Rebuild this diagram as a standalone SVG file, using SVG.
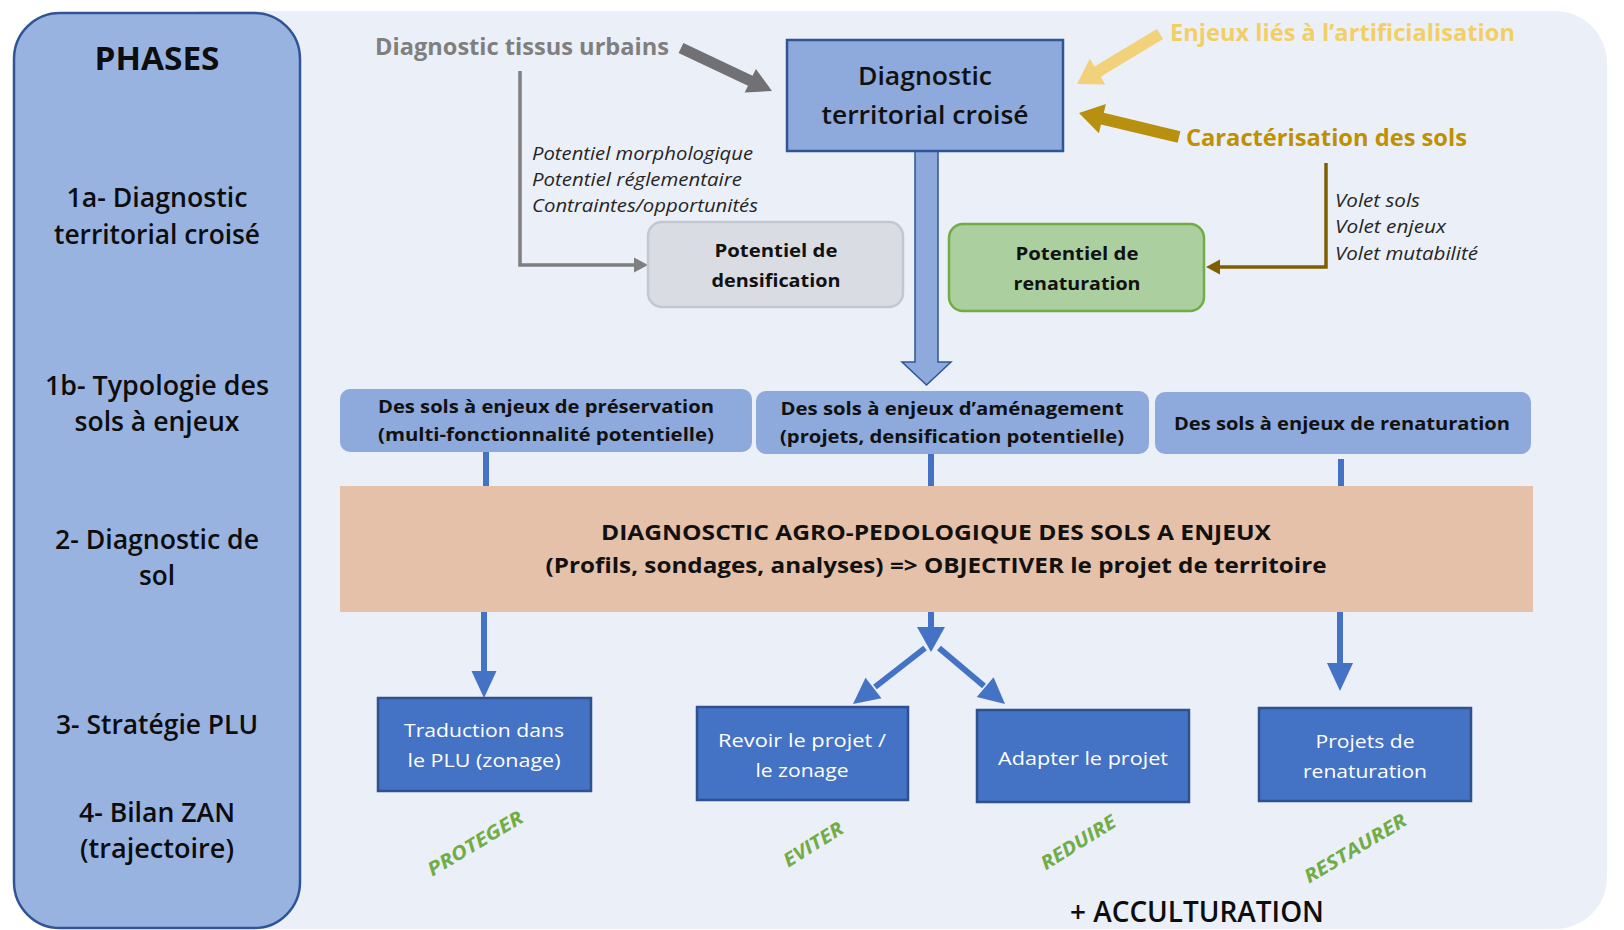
<svg xmlns="http://www.w3.org/2000/svg" width="1624" height="930" viewBox="0 0 1624 930">
<style>
text{font-family:"Open Sans","Liberation Sans",sans-serif;}
.ph{font-size:27px;font-weight:600;fill:#0d0d0d;text-anchor:middle}
.hd{font-size:23px;font-weight:700}
.it{font-size:17.5px;font-style:italic;fill:#262626}
.bx{font-weight:700;fill:#111;text-anchor:middle}
.wt{font-size:18.5px;fill:#fff;text-anchor:middle}
.gr{font-size:19px;font-weight:700;font-style:italic;fill:#70AD47;text-anchor:middle}
.blue{fill:#4472C4;stroke:#2F528F;stroke-width:2.5}
.cat{fill:#8EA9DB}
.conn{stroke:#4472C4;stroke-width:6;fill:none}
.hb{fill:#4472C4}
</style>
<rect width="1624" height="930" fill="#fff"/>
<rect id="background" x="150" y="11" width="1457" height="918" rx="52" fill="#EBEFF8"/>

<g id="phases">
<rect x="14" y="13" width="286" height="915" rx="46" fill="#99B3E0" stroke="#2F5597" stroke-width="2.5"/>
<text class="ph" x="157" y="70" style="font-size:32px;font-weight:700" textLength="125" lengthAdjust="spacingAndGlyphs">PHASES</text>
<text class="ph" x="157" y="207" textLength="181" lengthAdjust="spacingAndGlyphs">1a- Diagnostic</text>
<text class="ph" x="157" y="244" textLength="206" lengthAdjust="spacingAndGlyphs">territorial croisé</text>
<text class="ph" x="157" y="395" textLength="224" lengthAdjust="spacingAndGlyphs">1b- Typologie des</text>
<text class="ph" x="157" y="431" textLength="165" lengthAdjust="spacingAndGlyphs">sols à enjeux</text>
<text class="ph" x="157" y="549" textLength="204" lengthAdjust="spacingAndGlyphs">2- Diagnostic de</text>
<text class="ph" x="157" y="585" textLength="36" lengthAdjust="spacingAndGlyphs">sol</text>
<text class="ph" x="157" y="734" textLength="202" lengthAdjust="spacingAndGlyphs">3- Stratégie PLU</text>
<text class="ph" x="157" y="822" textLength="156" lengthAdjust="spacingAndGlyphs">4- Bilan ZAN</text>
<text class="ph" x="157" y="858" textLength="154" lengthAdjust="spacingAndGlyphs">(trajectoire)</text>
</g>

<g id="connectors">
<polygon points="678.6,53 748,85.7 744.7,92.5 772,91 755.9,69 752.6,75.8 683.4,43" fill="#707075"/>
<polygon points="1156.9,28.9 1094.5,66.5 1089.8,58.8 1077,84 1105.3,84.5 1100.7,76.8 1163.1,39.1" fill="#F1D27A"/>
<polygon points="1180.4,131.2 1103.8,112.8 1105.9,104 1079,113 1098.9,133.2 1101,124.4 1177.6,142.8" fill="#B8900F"/>
<path d="M520,71 V265 H636" fill="none" stroke="#7F7F7F" stroke-width="3.5"/>
<polygon points="634,257.5 648,265 634,272.5" fill="#7F7F7F"/>
<path d="M1326,163 V267 H1219" fill="none" stroke="#7F6000" stroke-width="3.5"/>
<polygon points="1220,259.5 1206,267 1220,274.5" fill="#7F6000"/>
<polygon points="915,151 938,151 938,362 951,362 926.5,385 902,362 915,362" fill="#8EA9DB" stroke="#2F5597" stroke-width="1.5"/>
<line class="conn" x1="486" y1="452" x2="486" y2="487"/>
<line class="conn" x1="931" y1="454" x2="931" y2="487"/>
<line class="conn" x1="1341" y1="459" x2="1341" y2="487"/>
<line class="conn" x1="484" y1="611" x2="484" y2="674"/>
<polygon class="hb" points="471.5,671 496.5,671 484,698"/>
<line class="conn" x1="931" y1="611" x2="931" y2="630"/>
<polygon class="hb" points="917,627 945,627 931,652"/>
<line class="conn" x1="925" y1="648" x2="875" y2="687"/>
<polygon class="hb" points="853,704 865.5,677.7 881.5,698.3"/>
<line class="conn" x1="939" y1="648" x2="984" y2="686"/>
<polygon class="hb" points="1005,704 976.8,697.1 993.6,677.3"/>
<line class="conn" x1="1340" y1="611" x2="1340" y2="666"/>
<polygon class="hb" points="1327,663 1353,663 1340,691"/>
</g>

<g id="diagnostic-tissus">
<text class="hd" x="375" y="55" fill="#7F7F7F" textLength="294" lengthAdjust="spacingAndGlyphs">Diagnostic tissus urbains</text>
</g>
<g id="enjeux-artificialisation">
<text class="hd" x="1170" y="41" fill="#F2CF66" textLength="345" lengthAdjust="spacingAndGlyphs">Enjeux liés à l’artificialisation</text>
</g>
<g id="caracterisation">
<text class="hd" x="1186" y="146" fill="#BF9000" textLength="281" lengthAdjust="spacingAndGlyphs">Caractérisation des sols</text>
</g>

<g id="diagnostic-territorial">
<rect x="787" y="40" width="276" height="111" fill="#8EA9DB" stroke="#2F5597" stroke-width="2.5"/>
<text class="bx" x="925" y="85" style="font-size:25px;font-weight:600" textLength="134" lengthAdjust="spacingAndGlyphs">Diagnostic</text>
<text class="bx" x="925" y="124" style="font-size:25px;font-weight:600" textLength="207" lengthAdjust="spacingAndGlyphs">territorial croisé</text>
</g>

<g id="potentiels-labels">
<text class="it" x="532" y="160" textLength="221" lengthAdjust="spacingAndGlyphs">Potentiel morphologique</text>
<text class="it" x="532" y="186" textLength="210" lengthAdjust="spacingAndGlyphs">Potentiel réglementaire</text>
<text class="it" x="532" y="212" textLength="226" lengthAdjust="spacingAndGlyphs">Contraintes/opportunités</text>
</g>
<g id="volets-labels">
<text class="it" x="1335" y="207" textLength="85" lengthAdjust="spacingAndGlyphs">Volet sols</text>
<text class="it" x="1335" y="233" textLength="111" lengthAdjust="spacingAndGlyphs">Volet enjeux</text>
<text class="it" x="1335" y="260" textLength="143" lengthAdjust="spacingAndGlyphs">Volet mutabilité</text>
</g>

<g id="potentiel-densification">
<rect x="648" y="222" width="255" height="85" rx="14" fill="#D9DCE3" stroke="#C3C7CF" stroke-width="2.5"/>
<text class="bx" x="776" y="257" style="font-size:18.5px" textLength="123" lengthAdjust="spacingAndGlyphs">Potentiel de</text>
<text class="bx" x="776" y="287" style="font-size:18.5px" textLength="129" lengthAdjust="spacingAndGlyphs">densification</text>
</g>

<g id="potentiel-renaturation">
<rect x="949" y="224" width="255" height="87" rx="14" fill="#ABCF9F" stroke="#70AD47" stroke-width="2.5"/>
<text class="bx" x="1077" y="260" style="font-size:18.5px" textLength="123" lengthAdjust="spacingAndGlyphs">Potentiel de</text>
<text class="bx" x="1077" y="290" style="font-size:18.5px" textLength="127" lengthAdjust="spacingAndGlyphs">renaturation</text>
</g>

<g id="sols-preservation">
<rect class="cat" x="340" y="389" width="412" height="63" rx="10"/>
<text class="bx" x="546" y="413" style="font-size:17px" textLength="336" lengthAdjust="spacingAndGlyphs">Des sols à enjeux de préservation</text>
<text class="bx" x="546" y="441" style="font-size:17px" textLength="336" lengthAdjust="spacingAndGlyphs">(multi-fonctionnalité potentielle)</text>
</g>
<g id="sols-amenagement">
<rect class="cat" x="756" y="391" width="393" height="63" rx="10"/>
<text class="bx" x="952" y="415" style="font-size:17px" textLength="343" lengthAdjust="spacingAndGlyphs">Des sols à enjeux d’aménagement</text>
<text class="bx" x="952" y="443" style="font-size:17px" textLength="344" lengthAdjust="spacingAndGlyphs">(projets, densification potentielle)</text>
</g>
<g id="sols-renaturation">
<rect class="cat" x="1155" y="392" width="376" height="62" rx="10"/>
<text class="bx" x="1342" y="430" style="font-size:17px" textLength="336" lengthAdjust="spacingAndGlyphs">Des sols à enjeux de renaturation</text>
</g>

<g id="diagnostic-agro">
<rect x="340" y="486" width="1193" height="126" fill="#E6C1AA"/>
<text class="bx" x="936" y="540" style="font-size:21px" textLength="670" lengthAdjust="spacingAndGlyphs">DIAGNOSCTIC AGRO-PEDOLOGIQUE DES SOLS A ENJEUX</text>
<text class="bx" x="936" y="573" style="font-size:21px" textLength="781" lengthAdjust="spacingAndGlyphs">(Profils, sondages, analyses) =&gt; OBJECTIVER le projet de territoire</text>
</g>

<g id="traduction-plu">
<rect class="blue" x="378" y="698" width="213" height="93"/>
<text class="wt" x="484" y="737" textLength="160" lengthAdjust="spacingAndGlyphs">Traduction dans</text>
<text class="wt" x="484" y="767" textLength="153" lengthAdjust="spacingAndGlyphs">le PLU (zonage)</text>
</g>
<g id="revoir-projet">
<rect class="blue" x="697" y="707" width="211" height="93"/>
<text class="wt" x="802" y="747" textLength="168" lengthAdjust="spacingAndGlyphs">Revoir le projet /</text>
<text class="wt" x="802" y="777" textLength="93" lengthAdjust="spacingAndGlyphs">le zonage</text>
</g>
<g id="adapter-projet">
<rect class="blue" x="977" y="710" width="212" height="92"/>
<text class="wt" x="1083" y="765" textLength="170" lengthAdjust="spacingAndGlyphs">Adapter le projet</text>
</g>
<g id="projets-renaturation">
<rect class="blue" x="1259" y="708" width="212" height="93"/>
<text class="wt" x="1365" y="748" textLength="99" lengthAdjust="spacingAndGlyphs">Projets de</text>
<text class="wt" x="1365" y="778" textLength="124" lengthAdjust="spacingAndGlyphs">renaturation</text>
</g>

<g id="labels-actions">
<text class="gr" transform="translate(475,843) rotate(-31)" x="0" y="7" textLength="108" lengthAdjust="spacingAndGlyphs">PROTEGER</text>
<text class="gr" transform="translate(813,844) rotate(-32)" x="0" y="7" textLength="67" lengthAdjust="spacingAndGlyphs">EVITER</text>
<text class="gr" transform="translate(1078,842) rotate(-32)" x="0" y="7" textLength="85" lengthAdjust="spacingAndGlyphs">REDUIRE</text>
<text class="gr" transform="translate(1355,848) rotate(-31)" x="0" y="7" textLength="116" lengthAdjust="spacingAndGlyphs">RESTAURER</text>
</g>

<g id="acculturation">
<text x="1070" y="922" style="font-size:29px;font-weight:600;fill:#0d0d0d" textLength="254" lengthAdjust="spacingAndGlyphs">+ ACCULTURATION</text>
</g>
</svg>
